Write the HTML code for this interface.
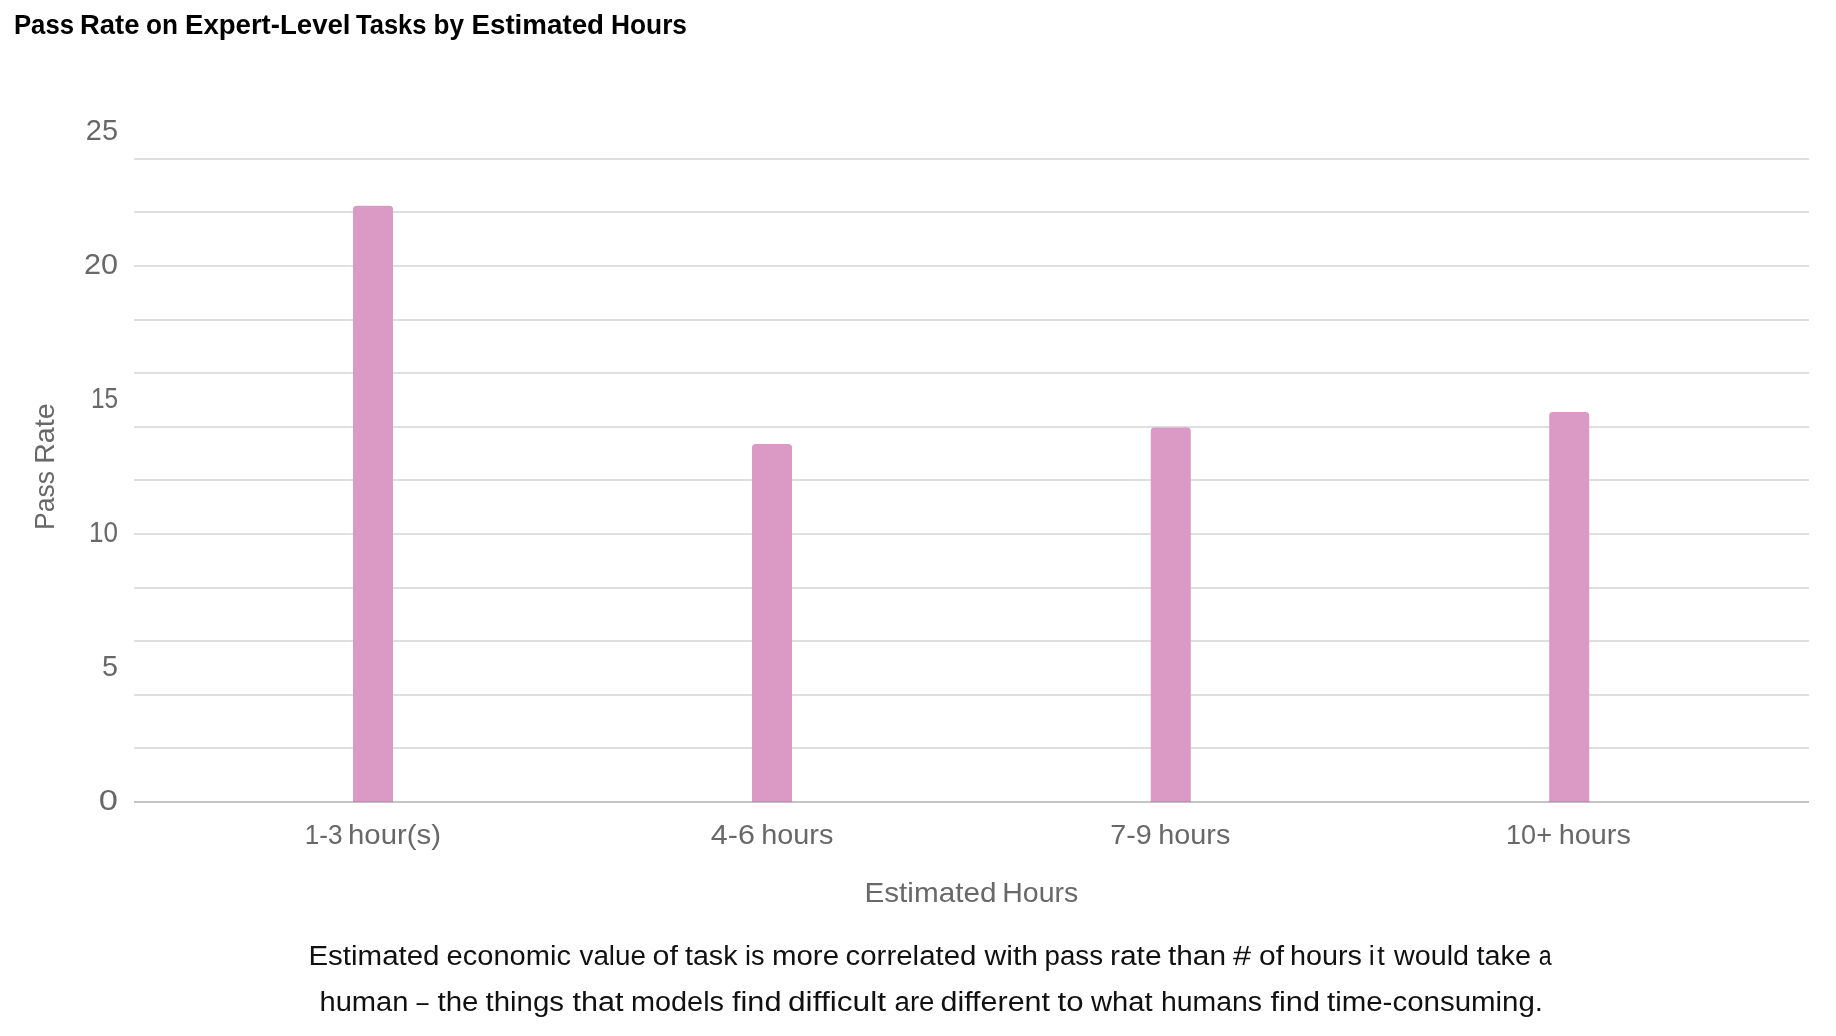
<!DOCTYPE html>
<html><head><meta charset="utf-8">
<style>
html,body{margin:0;padding:0;background:#fff;width:1836px;height:1036px;overflow:hidden}
svg{display:block;will-change:transform}
text{font-family:"Liberation Sans",sans-serif}
</style></head>
<body>
<svg width="1836" height="1036" viewBox="0 0 1836 1036">
<g font-size="27" font-weight="bold" fill="#000">
<text x="13.96" y="34" textLength="60.07" lengthAdjust="spacingAndGlyphs">Pass</text>
<text x="80.0" y="34" textLength="59.5" lengthAdjust="spacingAndGlyphs">Rate</text>
<text x="146.01" y="34" textLength="32.01" lengthAdjust="spacingAndGlyphs">on</text>
<text x="184.99" y="34" textLength="165.52" lengthAdjust="spacingAndGlyphs">Expert-Level</text>
<text x="355.99" y="34" textLength="70.49" lengthAdjust="spacingAndGlyphs">Tasks</text>
<text x="433.56" y="34" textLength="30.45" lengthAdjust="spacingAndGlyphs">by</text>
<text x="471.48" y="34" textLength="132.53" lengthAdjust="spacingAndGlyphs">Estimated</text>
<text x="610.99" y="34" textLength="76.02" lengthAdjust="spacingAndGlyphs">Hours</text>
</g>
<g stroke="#dfdfdf" stroke-width="2">
<line x1="134" y1="159" x2="1809" y2="159"/>
<line x1="134" y1="212" x2="1809" y2="212"/>
<line x1="134" y1="266" x2="1809" y2="266"/>
<line x1="134" y1="320" x2="1809" y2="320"/>
<line x1="134" y1="373" x2="1809" y2="373"/>
<line x1="134" y1="427" x2="1809" y2="427"/>
<line x1="134" y1="480" x2="1809" y2="480"/>
<line x1="134" y1="534" x2="1809" y2="534"/>
<line x1="134" y1="588" x2="1809" y2="588"/>
<line x1="134" y1="641" x2="1809" y2="641"/>
<line x1="134" y1="695" x2="1809" y2="695"/>
<line x1="134" y1="748" x2="1809" y2="748"/>
</g>
<line x1="134" y1="802" x2="1809" y2="802" stroke="#c4c4c4" stroke-width="2"/>
<g fill="#da9ac5">
<path d="M353.0,802 V209.3 Q353.0,205.8 356.5,205.8 H389.5 Q393.0,205.8 393.0,209.3 V802 Z"/>
<path d="M752.0,802 V447.4 Q752.0,443.9 755.5,443.9 H788.5 Q792.0,443.9 792.0,447.4 V802 Z"/>
<path d="M1150.8,802 V431.1 Q1150.8,427.6 1154.3,427.6 H1187.3 Q1190.8,427.6 1190.8,431.1 V802 Z"/>
<path d="M1549.2,802 V415.6 Q1549.2,412.1 1552.7,412.1 H1585.7 Q1589.2,412.1 1589.2,415.6 V802 Z"/>
</g>
<g fill="#c487b0">
<rect x="353.0" y="801" width="40" height="1"/>
<rect x="752.0" y="801" width="40" height="1"/>
<rect x="1150.8" y="801" width="40" height="1"/>
<rect x="1549.2" y="801" width="40" height="1"/>
</g>
<g font-size="29" fill="#686868" text-anchor="end">
<text x="118" y="140" textLength="32.2" lengthAdjust="spacingAndGlyphs">25</text>
<text x="118" y="274" textLength="34" lengthAdjust="spacingAndGlyphs">20</text>
<text x="118" y="408" textLength="27.1" lengthAdjust="spacingAndGlyphs">15</text>
<text x="118" y="542" textLength="29" lengthAdjust="spacingAndGlyphs">10</text>
<text x="118" y="676" textLength="16" lengthAdjust="spacingAndGlyphs">5</text>
<text x="118" y="810" textLength="19.2" lengthAdjust="spacingAndGlyphs">0</text>
</g>
<g font-size="28" fill="#686868">
<text x="304.63" y="844" textLength="37.82" lengthAdjust="spacingAndGlyphs">1-3</text>
<text x="348.05" y="844" textLength="93.00" lengthAdjust="spacingAndGlyphs">hour(s)</text>
<text x="710.89" y="844" textLength="44.11" lengthAdjust="spacingAndGlyphs">4-6</text>
<text x="761.26" y="844" textLength="72.15" lengthAdjust="spacingAndGlyphs">hours</text>
<text x="1110.26" y="844" textLength="41.55" lengthAdjust="spacingAndGlyphs">7-9</text>
<text x="1158.26" y="844" textLength="72.15" lengthAdjust="spacingAndGlyphs">hours</text>
<text x="1506.07" y="844" textLength="45.94" lengthAdjust="spacingAndGlyphs">10+</text>
<text x="1558.66" y="844" textLength="72.15" lengthAdjust="spacingAndGlyphs">hours</text>
<text x="864.47" y="902" textLength="131.97" lengthAdjust="spacingAndGlyphs">Estimated</text>
<text x="1002.25" y="902" textLength="75.96" lengthAdjust="spacingAndGlyphs">Hours</text>
</g>
<g font-size="28" fill="#686868">
<text transform="translate(54,530) rotate(-90)" textLength="59.1" lengthAdjust="spacingAndGlyphs">Pass</text>
<text transform="translate(54,463.8) rotate(-90)" textLength="60.4" lengthAdjust="spacingAndGlyphs">Rate</text>
</g>
<g font-size="27" fill="#111">
<text x="308.48" y="965" textLength="131.04" lengthAdjust="spacingAndGlyphs">Estimated</text>
<text x="446.50" y="965" textLength="124.50" lengthAdjust="spacingAndGlyphs">economic</text>
<text x="579.49" y="965" textLength="66.51" lengthAdjust="spacingAndGlyphs">value</text>
<text x="652.56" y="965" textLength="25.44" lengthAdjust="spacingAndGlyphs">of</text>
<text x="685.01" y="965" textLength="52.47" lengthAdjust="spacingAndGlyphs">task</text>
<text x="745.00" y="965" textLength="19.50" lengthAdjust="spacingAndGlyphs">is</text>
<text x="771.97" y="965" textLength="67.05" lengthAdjust="spacingAndGlyphs">more</text>
<text x="845.50" y="965" textLength="131.01" lengthAdjust="spacingAndGlyphs">correlated</text>
<text x="984.51" y="965" textLength="53.48" lengthAdjust="spacingAndGlyphs">with</text>
<text x="1044.51" y="965" textLength="58.48" lengthAdjust="spacingAndGlyphs">pass</text>
<text x="1109.91" y="965" textLength="51.67" lengthAdjust="spacingAndGlyphs">rate</text>
<text x="1167.99" y="965" textLength="58.00" lengthAdjust="spacingAndGlyphs">than</text>
<text x="1232.98" y="965" textLength="18.05" lengthAdjust="spacingAndGlyphs">#</text>
<text x="1259.05" y="965" textLength="24.97" lengthAdjust="spacingAndGlyphs">of</text>
<text x="1289.97" y="965" textLength="72.04" lengthAdjust="spacingAndGlyphs">hours</text>
<text x="1368.70" y="965" textLength="16.10" lengthAdjust="spacing">it</text>
<text x="1394.00" y="965" textLength="75.00" lengthAdjust="spacingAndGlyphs">would</text>
<text x="1476.49" y="965" textLength="54.48" lengthAdjust="spacingAndGlyphs">take</text>
<text x="1538.63" y="965" textLength="12.93" lengthAdjust="spacingAndGlyphs">a</text>
<text x="319.47" y="1011" textLength="89.05" lengthAdjust="spacingAndGlyphs">human</text>
<text x="416.46" y="1011" textLength="12.06" lengthAdjust="spacingAndGlyphs">–</text>
<text x="437.51" y="1011" textLength="40.95" lengthAdjust="spacingAndGlyphs">the</text>
<text x="485.50" y="1011" textLength="78.48" lengthAdjust="spacingAndGlyphs">things</text>
<text x="572.49" y="1011" textLength="51.00" lengthAdjust="spacingAndGlyphs">that</text>
<text x="631.00" y="1011" textLength="93.00" lengthAdjust="spacingAndGlyphs">models</text>
<text x="732.00" y="1011" textLength="49.48" lengthAdjust="spacingAndGlyphs">find</text>
<text x="788.00" y="1011" textLength="98.00" lengthAdjust="spacingAndGlyphs">difficult</text>
<text x="894.52" y="1011" textLength="39.97" lengthAdjust="spacingAndGlyphs">are</text>
<text x="940.51" y="1011" textLength="109.49" lengthAdjust="spacingAndGlyphs">different</text>
<text x="1057.51" y="1011" textLength="26.01" lengthAdjust="spacingAndGlyphs">to</text>
<text x="1090.96" y="1011" textLength="61.56" lengthAdjust="spacingAndGlyphs">what</text>
<text x="1160.99" y="1011" textLength="101.02" lengthAdjust="spacingAndGlyphs">humans</text>
<text x="1270.50" y="1011" textLength="49.49" lengthAdjust="spacingAndGlyphs">find</text>
<text x="1327.00" y="1011" textLength="216.01" lengthAdjust="spacingAndGlyphs">time-consuming.</text>
</g>
</svg>
</body></html>
